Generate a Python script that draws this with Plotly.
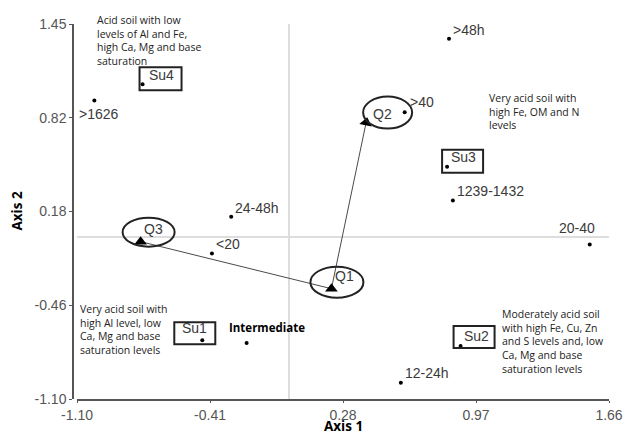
import numpy as np
import plotly.graph_objects as go

# ---------------- data ----------------
cat_labels = [">48h", ">40", "1239-1432", "20-40", "12-24h", "24-48h", "<20", ">1626", "Intermediate"]
cat_x = [0.83, 0.60, 0.85, 1.56, 0.58, -0.30, -0.40, -1.01, -0.22]
cat_y = [1.35, 0.85, 0.25, -0.05, -0.99, 0.14, -0.11, 0.93, -0.72]

site_labels = ["Su1", "Su2", "Su3", "Su4"]
site_x = [-0.45, 0.89, 0.82, -0.76]
site_y = [-0.70, -0.74, 0.48, 1.04]

group_labels = ["Q3", "Q1", "Q2"]
group_x = [-0.77, 0.22, 0.40]
group_y = [-0.03, -0.35, 0.78]

x_tick_text = ["-1.10", "-0.41", "0.28", "0.97", "1.66"]
y_tick_text = ["-1.10", "-0.46", "0.18", "0.82", "1.45"]
x_min, x_max = -1.10, 1.66
y_min, y_max = -1.10, 1.45

notes = [
    "Acid soil with low<br>levels of Al and Fe,<br>high Ca, Mg and base<br>saturation",
    "Very acid soil with<br>high Fe, OM and N<br>levels",
    "Very acid soil with<br>high Al level, low<br>Ca, Mg and base<br>saturation levels",
    "Moderately acid soil<br>with high Fe, Cu, Zn<br>and S levels and, low<br>Ca, Mg and base<br>saturation levels",
]
note_x = [-1.00, 1.03, -1.09, 1.10]
note_y = [1.45, 1.00, -0.435, -0.47]

# ---------------- styles ----------------
LBL_FONT = dict(family="Liberation Sans, Arial", size=14, color="#3a3a3a")
NOTE_FONT = dict(family="Open Sans", size=10.5, color="#222222")
TITLE_FONT = dict(family="Open Sans", size=13.5, color="black", weight="bold")
note_shift = [12, 0, 0, 0]

# label placement (xanchor, xshift, yshift) per category label
cat_style = {
    ">48h": ("left", 3, 9),
    ">40": ("left", 4, 10),
    "1239-1432": ("left", 3, 9),
    "20-40": ("right", 6, 17),
    "12-24h": ("left", 3, 10),
    "24-48h": ("left", 3, 9),
    "<20": ("left", 3, 9),
    ">1626": ("left", -16, -14),
    "Intermediate": ("left", -19, 16),
}
# box (left, right, up, down) and text shift per site
site_style = {
    "Su1": ((-28, 13, 18, 4), (-8, 12)),
    "Su2": ((-7, 34, 20, 2), (16, 10)),
    "Su3": ((-5, 36, 17, 6), (16, 10)),
    "Su4": ((-3, 39, 17, 6), (19, 9)),
}
# ellipse (left, right, up, down) and label shift per group
group_style = {
    "Q3": ((-18, 34, 24, 5), (13, 13)),
    "Q1": ((-21, 32, 22, 9), (13, 13)),
    "Q2": ((-3, 46, 26, 6), (16, 9)),
}

fig = go.Figure()

# connecting lines between groups
fig.add_trace(go.Scatter(x=group_x, y=group_y, mode="lines",
                         line=dict(color="#4a4a4a", width=1), hoverinfo="skip"))
# group triangles
fig.add_trace(go.Scatter(x=group_x, y=group_y, mode="markers",
                         marker=dict(symbol="triangle-up", size=11, color="black",
                                     angle=[0, 0, 12]),
                         hoverinfo="skip"))
# category points
fig.add_trace(go.Scatter(x=cat_x, y=cat_y, mode="markers",
                         marker=dict(size=4, color="black"), hoverinfo="skip"))
# site points
fig.add_trace(go.Scatter(x=site_x, y=site_y, mode="markers",
                         marker=dict(size=4, color="black"), hoverinfo="skip"))

annotations = []
shapes = []

for lbl, x, y in zip(cat_labels, cat_x, cat_y):
    xa, xs, ys = cat_style[lbl]
    if lbl == "Intermediate":
        font = dict(family="Open Sans", size=11.5, color="black", weight="bold")
    else:
        font = LBL_FONT
    annotations.append(dict(x=x, y=y, xref="x", yref="y", text=lbl, showarrow=False,
                            xanchor=xa, yanchor="middle", xshift=xs, yshift=ys,
                            font=font, borderpad=0))

for lbl, x, y in zip(site_labels, site_x, site_y):
    (l, r, u, d), (tx, ty) = site_style[lbl]
    shapes.append(dict(type="rect", xref="x", yref="y", xsizemode="pixel", ysizemode="pixel",
                       xanchor=x, yanchor=y, x0=l, x1=r, y0=-d, y1=u,
                       line=dict(color="#222222", width=2)))
    annotations.append(dict(x=x, y=y, xref="x", yref="y", text=lbl, showarrow=False,
                            xanchor="center", yanchor="middle", xshift=tx, yshift=ty,
                            font=LBL_FONT, borderpad=0))

for lbl, x, y in zip(group_labels, group_x, group_y):
    (l, r, u, d), (tx, ty) = group_style[lbl]
    shapes.append(dict(type="circle", xref="x", yref="y", xsizemode="pixel", ysizemode="pixel",
                       xanchor=x, yanchor=y, x0=l, x1=r, y0=-d, y1=u,
                       line=dict(color="#222222", width=2)))
    annotations.append(dict(x=x, y=y, xref="x", yref="y", text=lbl, showarrow=False,
                            xanchor="center", yanchor="middle", xshift=tx, yshift=ty,
                            font=LBL_FONT, borderpad=0))

for txt, x, y, sh in zip(notes, note_x, note_y, note_shift):
    annotations.append(dict(x=x, y=y, xref="x", yref="y", text=txt, showarrow=False,
                            xanchor="left", yanchor="top", align="left", yshift=sh,
                            font=NOTE_FONT, borderpad=0))

# axis titles
annotations.append(dict(x=0.5, y=0, xref="x domain", yref="paper", text="Axis 1",
                        showarrow=False, xanchor="center", yanchor="bottom", yshift=-37,
                        font=TITLE_FONT, borderpad=0))
annotations.append(dict(x=0, y=0.5, xref="paper", yref="y domain", text="Axis 2",
                        showarrow=False, textangle=-90, xanchor="center", yanchor="middle",
                        xshift=-57, font=TITLE_FONT, borderpad=0))

fig.update_layout(
    width=623, height=437,
    margin=dict(l=73, r=14, t=24, b=38, autoexpand=False),
    paper_bgcolor="white", plot_bgcolor="white",
    showlegend=False,
    shapes=shapes, annotations=annotations,
    xaxis=dict(range=[x_min, x_max], domain=[4 / 536, 1],
               tickvals=np.linspace(x_min, x_max, 5), ticktext=x_tick_text,
               showgrid=False, zeroline=True, zerolinecolor="#dddddd", zerolinewidth=1.5,
               showline=True, linecolor="#555555", linewidth=1.5,
               ticks="outside", ticklen=2, tickcolor="#555555",
               tickfont=dict(family="Liberation Sans, Arial", size=14, color="#555555")),
    yaxis=dict(range=[y_min, y_max], anchor="free", position=0,
               tickvals=np.linspace(y_min, y_max, 5), ticktext=y_tick_text,
               showgrid=False, zeroline=True, zerolinecolor="#dddddd", zerolinewidth=1.5,
               showline=True, linecolor="#555555", linewidth=1.5,
               ticks="outside", ticklen=3, tickcolor="#555555",
               tickfont=dict(family="Liberation Sans, Arial", size=14, color="#555555")),
)

fig.write_html("out.html", config={"displayModeBar": False},
               post_script="document.body.style.margin='0';document.body.style.overflow='hidden';")
